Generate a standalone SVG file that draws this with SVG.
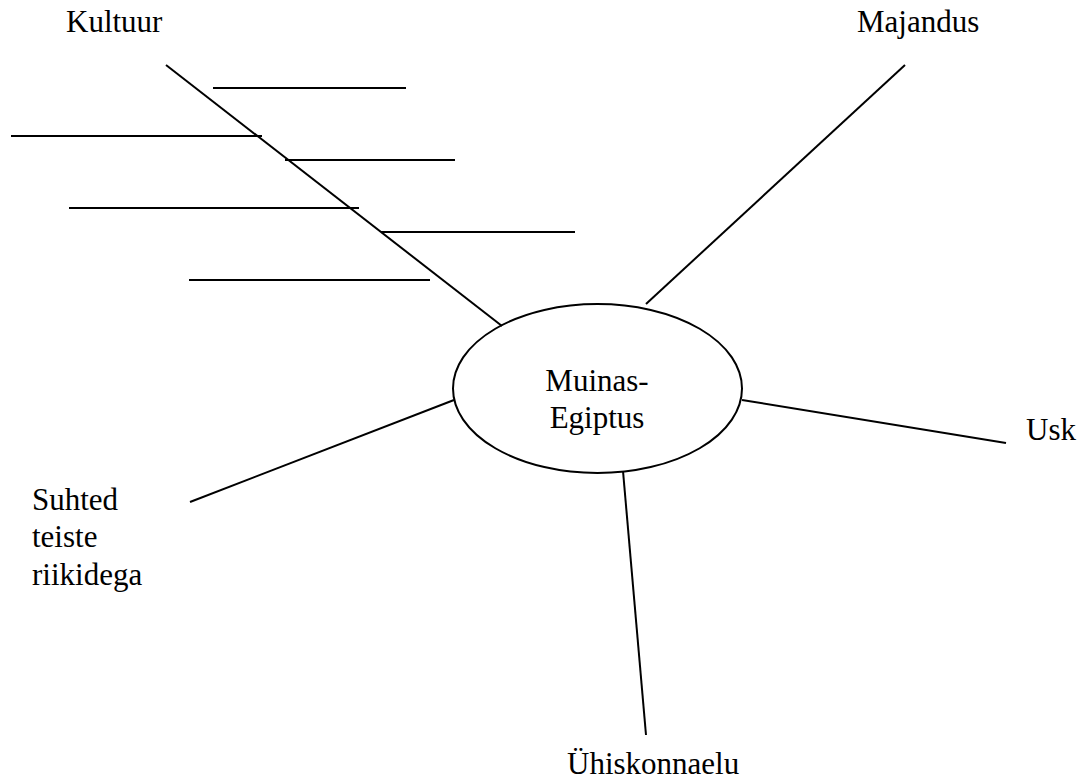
<svg xmlns="http://www.w3.org/2000/svg" width="1079" height="780" viewBox="0 0 1079 780">
<style>
.l{stroke:#000;stroke-width:2;fill:none}
</style>
<rect width="1079" height="780" fill="#fff"/>
<g id="connectors">
<line class="l" x1="166" y1="65" x2="502" y2="326"/>
<line class="l" x1="213" y1="88" x2="406" y2="88"/>
<line class="l" x1="11" y1="136" x2="262" y2="136"/>
<line class="l" x1="285" y1="160" x2="455" y2="160"/>
<line class="l" x1="69" y1="208" x2="359" y2="208"/>
<line class="l" x1="381" y1="232" x2="575" y2="232"/>
<line class="l" x1="189" y1="280" x2="430" y2="280"/>
<line class="l" x1="905" y1="65" x2="646" y2="304"/>
<line class="l" x1="742" y1="400" x2="1006" y2="443"/>
<line class="l" x1="454" y1="400" x2="190" y2="502"/>
<line class="l" x1="623" y1="471" x2="646" y2="735"/>
</g>
<g font-family="Liberation Serif, DejaVu Serif, Times New Roman, serif" font-size="31" fill="#000">
<g id="center">
<ellipse class="l" cx="597.5" cy="388.5" rx="144.5" ry="84.5"/>
<text x="597" y="391" text-anchor="middle">Muinas-</text>
<text x="597" y="428" text-anchor="middle">Egiptus</text>
</g>
<g id="kultuur"><text x="66" y="32">Kultuur</text></g>
<g id="majandus"><text x="857" y="32">Majandus</text></g>
<g id="usk"><text x="1026" y="440">Usk</text></g>
<g id="suhted">
<text x="32" y="510">Suhted</text>
<text x="32" y="547">teiste</text>
<text x="32" y="585">riikidega</text>
</g>
<g id="yhiskonnaelu"><text x="567" y="774">Ühiskonnaelu</text></g>
</g>
</svg>
